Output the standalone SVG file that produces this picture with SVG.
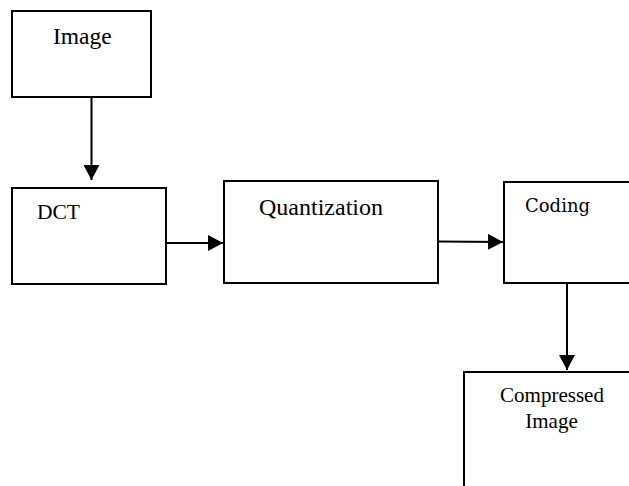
<svg xmlns="http://www.w3.org/2000/svg" width="629" height="486" viewBox="0 0 629 486">
<style>
.box{fill:#fff;stroke:#000;stroke-width:2}
.t{font-family:"Liberation Serif","Times New Roman",serif;fill:#000}
.c{stroke:#000;stroke-width:2;fill:none}
</style>
<defs>
<marker id="ah" markerWidth="8" markerHeight="8" refX="7.5" refY="4" orient="auto" markerUnits="userSpaceOnUse" viewBox="0 0 8 8">
<path d="M0,0 L8,4 L0,8 Z" fill="#000"/>
</marker>
<marker id="arr" viewBox="0 0 15 16" refX="15" refY="8" markerWidth="15" markerHeight="16" orient="auto" markerUnits="userSpaceOnUse">
<path d="M0,0 L15,8 L0,16 Z" fill="#000"/>
</marker>
</defs>
<rect width="629" height="486" fill="#fff"/>
<g id="connectors">
<line class="c" x1="91.5" y1="97" x2="91.5" y2="180" marker-end="url(#arr)"/>
<line class="c" x1="166" y1="243" x2="223" y2="243" marker-end="url(#arr)"/>
<line class="c" x1="439" y1="241.5" x2="503" y2="242" marker-end="url(#arr)"/>
<line class="c" x1="567" y1="283" x2="567" y2="370" marker-end="url(#arr)"/>
</g>
<g id="node-image">
<rect class="box" x="12" y="11" width="139" height="86"/>
<text class="t" x="53" y="44" font-size="23.5">Image</text>
</g>
<g id="node-dct">
<rect class="box" x="12" y="188" width="154" height="96"/>
<text class="t" x="37" y="219" font-size="21.5">DCT</text>
</g>
<g id="node-quantization">
<rect class="box" x="224" y="181" width="214" height="102"/>
<text class="t" x="259" y="215" font-size="24">Quantization</text>
</g>
<g id="node-coding">
<rect class="box" x="504" y="182" width="140" height="101"/>
<text x="525" y="212" font-size="18" font-family="'DejaVu Serif',serif" fill="#000">Coding</text>
</g>
<g id="node-compressed">
<rect class="box" x="464" y="372" width="180" height="130"/>
<text class="t" x="552" y="402" font-size="21" text-anchor="middle">Compressed</text>
<text class="t" x="551.5" y="428" font-size="21" text-anchor="middle">Image</text>
</g>
</svg>
